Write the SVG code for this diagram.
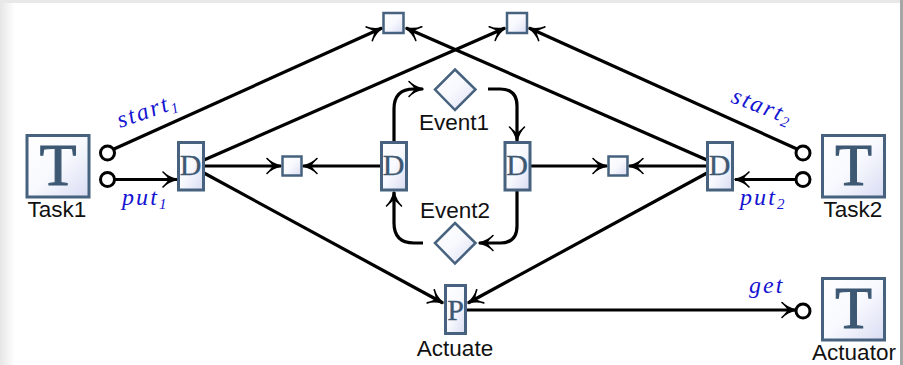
<svg xmlns="http://www.w3.org/2000/svg" width="903" height="365" viewBox="0 0 903 365">
<style>
.b{fill:url(#g);stroke:#46627e;stroke-width:3}
.s{fill:url(#g);stroke:#46627e;stroke-width:2.5}
.c{fill:none;stroke:#000;stroke-width:3.200}
.a{marker-end:url(#h)}
.p{fill:#fff;stroke:#000;stroke-width:3}
.big{font-family:"Liberation Serif",serif;fill:#3d5873;stroke:#3d5873;text-anchor:middle}
.t{font-size:60px;stroke-width:1.200}
.d{font-size:30px;stroke-width:0.300}
.l{font-family:"Liberation Sans",sans-serif;font-size:22.500px;fill:#111;text-anchor:middle}
.m{font-family:"Liberation Serif",serif;font-style:italic;font-size:24px;fill:#1414d2;letter-spacing:2.100px}
.sub{font-size:15px;font-style:italic}
</style>
<defs>
<linearGradient id="g" x1="0" y1="0" x2="1" y2="1"><stop offset="0" stop-color="#fff"/><stop offset="0.5" stop-color="#f8f9fe"/><stop offset="1" stop-color="#d9dcf3"/></linearGradient>
<linearGradient id="e" x1="0" x2="1" y1="0" y2="0"><stop offset="0" stop-color="#e6e6e6"/><stop offset="1" stop-color="#fff"/></linearGradient>
<marker id="h" markerUnits="userSpaceOnUse" markerWidth="20" markerHeight="20" refX="16" refY="10" orient="auto" viewBox="0 0 20 20"><path d="M2 2.500Q7 8 16 10Q7 12 2 17.500Q8 12 8 10Q8 8 2 2.500Z" fill="#000" stroke="#000" stroke-width="1.600" stroke-linejoin="round"/></marker>
</defs>
<rect width="903" height="365" fill="#fff"/>
<rect x="0" y="0" width="15" height="365" fill="url(#e)"/>
<rect x="0" y="0" width="903" height="3" fill="#e8e8e8"/>
<rect x="900" y="0" width="3" height="365" fill="#a6a6a6"/>
<g id="connectors">
<path class="c a" d="M114 149L382 28"/>
<path class="c a" d="M204 160L505 28"/>
<path class="c a" d="M114 179.500H177"/>
<path class="c a" d="M204 166H281"/>
<path class="c a" d="M204 173L443 303"/>
<path class="c a" d="M381 166H303"/>
<path class="c a" d="M394 141V109Q394 89 414 89H423"/>
<path class="c a" d="M488 89H500Q517 89 517 106V141"/>
<path class="c a" d="M517 191V226Q517 243 500 243H479"/>
<path class="c a" d="M423 243H414Q394 243 394 223V192"/>
<path class="c a" d="M531 166H607"/>
<path class="c a" d="M707 166H629"/>
<path class="c a" d="M707 160L406 28"/>
<path class="c a" d="M797 149L529 28"/>
<path class="c a" d="M796 179.500H735"/>
<path class="c a" d="M707 173L468 303"/>
<path class="c a" d="M466 310H796"/>
</g>
<g id="task1"><rect class="b" x="27" y="135.500" width="62" height="61.500"/><text class="big t" x="58" y="185">T</text><text class="l" x="57" y="216.500">Task1</text></g>
<g id="task2"><rect class="b" x="822.500" y="135.500" width="62" height="61.500"/><text class="big t" x="853.500" y="185">T</text><text class="l" x="853" y="216.500">Task2</text></g>
<g id="actuator"><rect class="b" x="822.500" y="278.500" width="62" height="61.500"/><text class="big t" x="853.500" y="328">T</text><text class="l" x="854" y="360">Actuator</text></g>
<g id="port-start1"><circle class="p" cx="107.500" cy="153" r="7"/></g>
<g id="port-put1"><circle class="p" cx="107.500" cy="179.500" r="7"/></g>
<g id="port-start2"><circle class="p" cx="803" cy="153" r="7"/></g>
<g id="port-put2"><circle class="p" cx="803" cy="179.500" r="7"/></g>
<g id="port-get"><circle class="p" cx="803" cy="311" r="7"/></g>
<g id="d1"><rect class="b" x="178.500" y="142.500" width="25" height="47.500"/><text class="big d" x="190.500" y="175">D</text></g>
<g id="d2"><rect class="b" x="381.500" y="142.500" width="25" height="47.500"/><text class="big d" x="393.500" y="175">D</text></g>
<g id="d3"><rect class="b" x="505" y="142.500" width="25" height="47.500"/><text class="big d" x="517" y="175">D</text></g>
<g id="d4"><rect class="b" x="707.500" y="142.500" width="25" height="47.500"/><text class="big d" x="719.500" y="175">D</text></g>
<g id="p"><rect class="b" x="445.500" y="285.500" width="20" height="48"/><text class="big d" x="455.500" y="320">P</text><text class="l" x="455" y="356">Actuate</text></g>
<g id="sq1"><rect class="s" x="383.500" y="13" width="20" height="20"/></g>
<g id="sq2"><rect class="s" x="507" y="13" width="20" height="20"/></g>
<g id="sq3"><rect class="s" x="282.500" y="156.500" width="19" height="19"/></g>
<g id="sq4"><rect class="s" x="608.500" y="156.500" width="19" height="19"/></g>
<g id="event1"><path class="s" d="M455 69.500L475.500 89.500L455 110L435 89.500Z"/><text class="l" x="454" y="130">Event1</text></g>
<g id="event2"><path class="s" d="M455 223L475.500 243L455 263.500L435 243Z"/><text class="l" x="455" y="218">Event2</text></g>
<g id="labels">
<text class="m" transform="translate(120 128) rotate(-19)">start<tspan class="sub" dy="4">1</tspan></text>
<text class="m" x="122" y="205">put<tspan class="sub" dy="4">1</tspan></text>
<text class="m" transform="translate(730 102) rotate(21)">start<tspan class="sub" dy="4">2</tspan></text>
<text class="m" x="740" y="205">put<tspan class="sub" dy="4">2</tspan></text>
<text class="m" x="749" y="293">get</text>
</g>
</svg>
